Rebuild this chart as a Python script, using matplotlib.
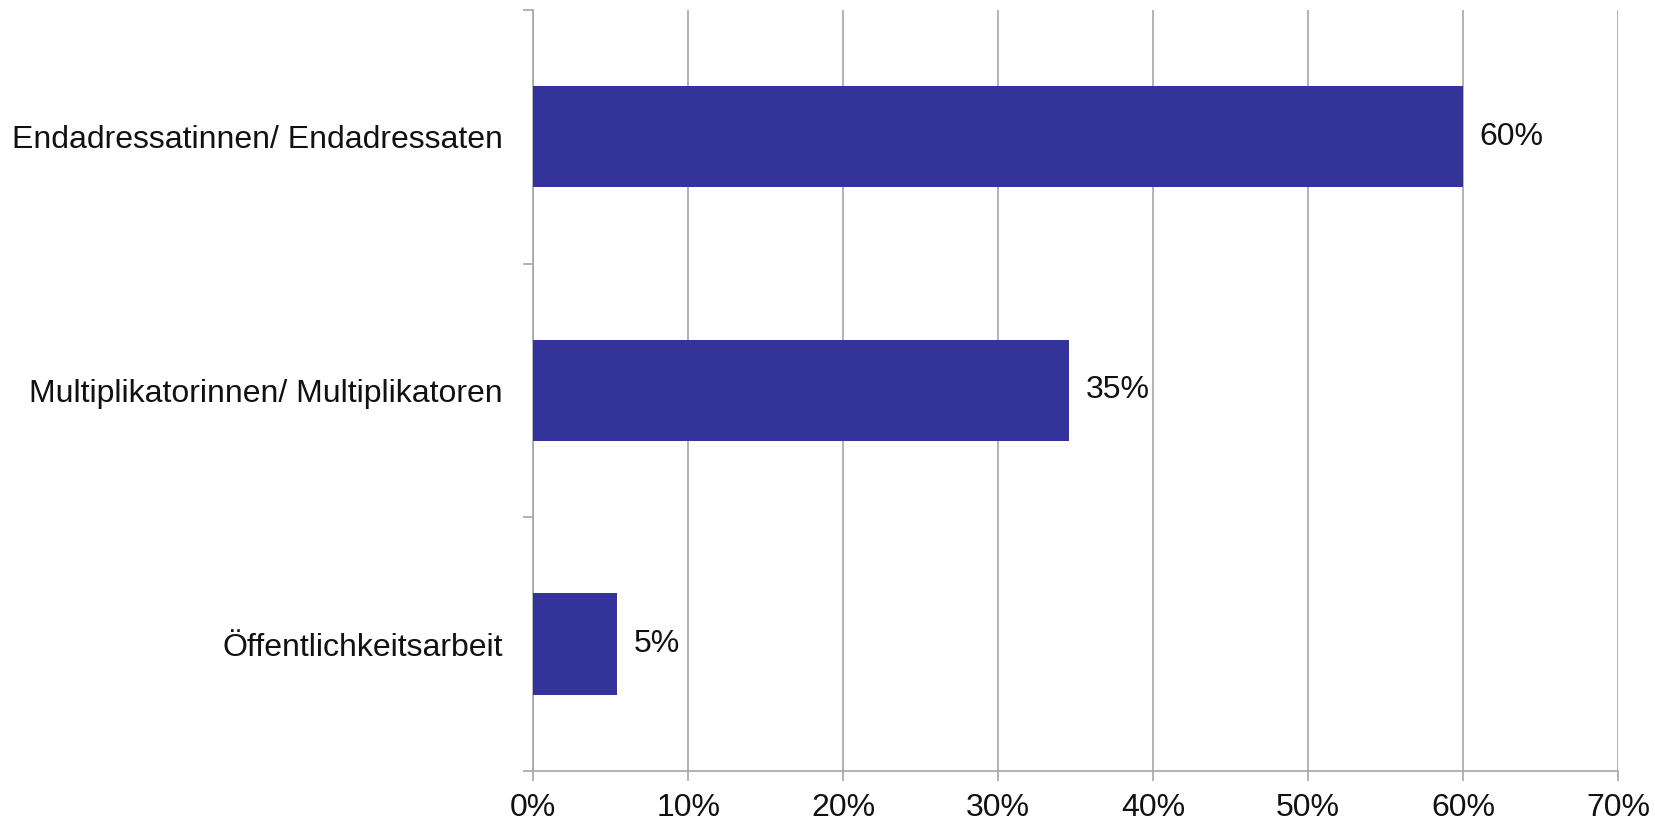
import matplotlib.pyplot as plt
import numpy as np

categories = ["Endadressatinnen/ Endadressaten",
              "Multiplikatorinnen/ Multiplikatoren",
              "Öffentlichkeitsarbeit"]
values = [60.0, 34.6, 5.4]
xticks = [0, 10, 20, 30, 40, 50, 60, 70]

plt.rcParams["font.family"] = ["Liberation Sans", "DejaVu Sans"]
gray = "#a6a6a6"

fig = plt.figure(figsize=(16.56, 8.26), dpi=100)
ax = fig.add_axes([0.322, 0.0666, 0.655, 0.9214])

y = np.arange(len(categories))
ax.barh(y, values, height=0.40, color="#333399", zorder=3)

for yi, v in zip(y, values):
    ax.annotate(f"{v:.0f}%", (v, yi), xytext=(12, 0), textcoords="offset points",
                va="center", ha="left", fontsize=23, color="#111111")

ax.set_xlim(0, 70)
ax.set_ylim(len(categories) - 0.5, -0.5)
ax.set_xticks(xticks)
ax.set_xticklabels([f"{t}%" for t in xticks], fontsize=23, color="#111111")
ax.set_yticks(y)
ax.set_yticklabels(categories, fontsize=23, color="#111111")
ax.set_yticks(np.arange(-0.5, len(categories)), minor=True)

ax.tick_params(axis="y", which="major", length=0, pad=22)
ax.tick_params(axis="y", which="minor", length=7.5, color=gray, width=1.2)
ax.tick_params(axis="x", length=7.5, color=gray, width=1.2, pad=8)

ax.grid(axis="x", color=gray, linewidth=1.2, zorder=0)
for s in ["top", "right"]:
    ax.spines[s].set_visible(False)
for s in ["left", "bottom"]:
    ax.spines[s].set_color(gray)
    ax.spines[s].set_linewidth(1.2)

fig.savefig("out.png", dpi=100)
